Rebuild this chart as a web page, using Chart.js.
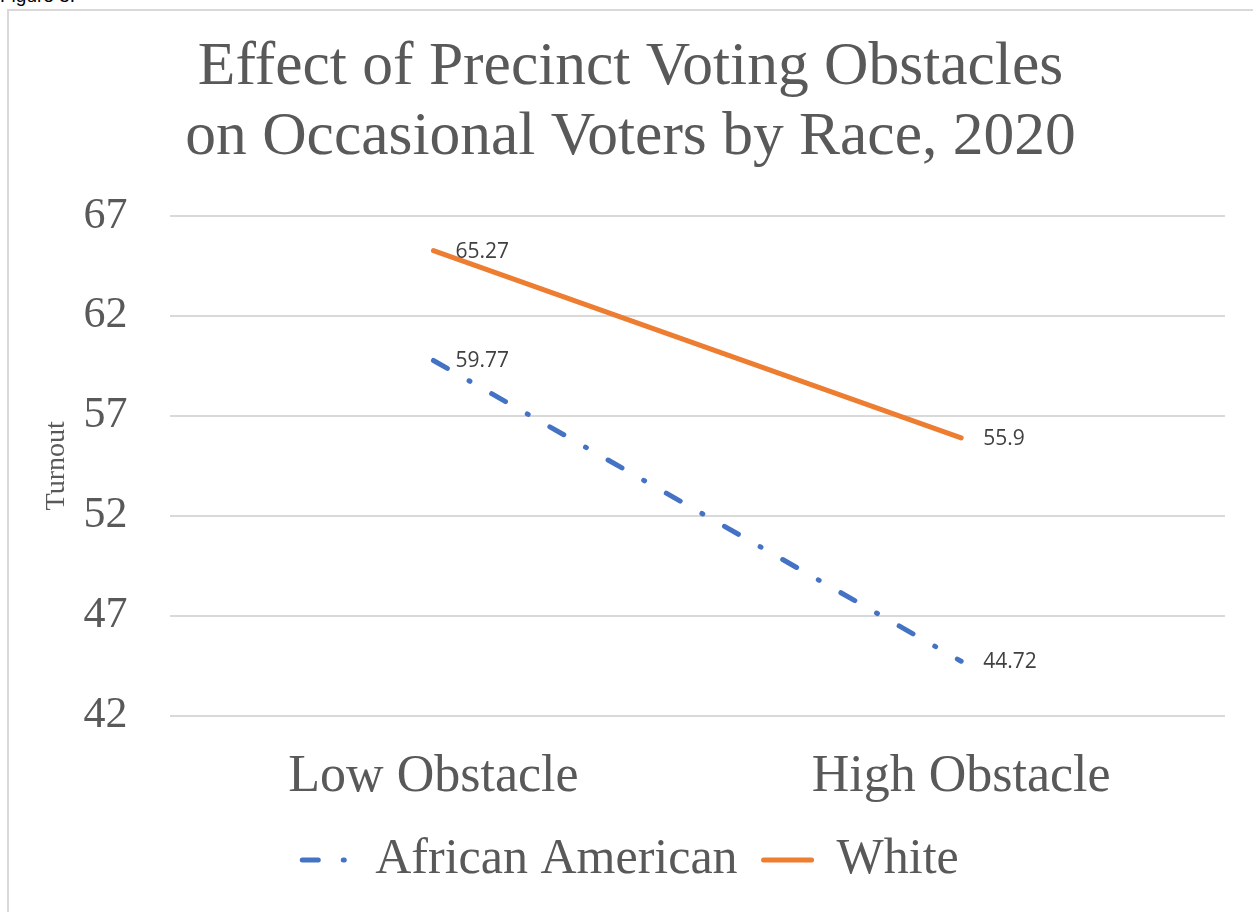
<!DOCTYPE html>
<html>
<head>
<meta charset="utf-8">
<script src="https://cdn.jsdelivr.net/npm/chart.js@4"></script>
<style>
  html, body { margin: 0; padding: 0; background: #fff; overflow: hidden; }
  #wrap { position: relative; width: 1253px; height: 912px; }
  #fig { position: absolute; left: 0; top: -15px; font: 19px "Liberation Sans", sans-serif; color: #000; }
  #frame { position: absolute; left: 7px; top: 9px; width: 1400px; height: 1000px; border: 2px solid #d9d9d9; }
  #c { position: absolute; left: 0; top: 0; }
</style>
</head>
<body>
<div id="wrap">
  <div id="fig">Figure 5.</div>
  <div id="frame"></div>
  <canvas id="c" width="1253" height="912"></canvas>
</div>
<script>
// chart data
var categories = ['Low Obstacle', 'High Obstacle'];
var africanAmerican = [59.77, 44.72];
var white = [65.27, 55.9];
var yTicks = [42, 47, 52, 57, 62, 67];

var grey = '#595959';
var serif = '"Liberation Serif", "DejaVu Serif", serif';
var dashDot = [16, 25, 1, 25];

var valueLabels = {
  id: 'valueLabels',
  afterDatasetsDraw: function(chart) {
    var ctx = chart.ctx;
    ctx.save();
    ctx.font = '21px "Open Sans", sans-serif';
    ctx.fillStyle = '#404040';
    ctx.textAlign = 'left';
    ctx.textBaseline = 'middle';
    chart.data.datasets.forEach(function(ds, i) {
      var meta = chart.getDatasetMeta(i);
      meta.data.forEach(function(pt, j) {
        ctx.fillText(String(ds.data[j]), pt.x + 22, pt.y + 1);
      });
    });
    ctx.restore();
  }
};

var ctx = document.getElementById('c').getContext('2d');
var chart = new Chart(ctx, {
  type: 'line',
  data: {
    labels: categories,
    datasets: [{
      label: 'African American',
      data: africanAmerican,
      borderColor: '#4472C4',
      backgroundColor: '#4472C4',
      borderWidth: 5,
      borderDash: dashDot,
      borderCapStyle: 'round',
      pointRadius: 0,
      tension: 0
    }, {
      label: 'White',
      data: white,
      borderColor: '#ED7D31',
      backgroundColor: '#ED7D31',
      borderWidth: 5,
      borderCapStyle: 'round',
      pointRadius: 0,
      tension: 0
    }]
  },
  options: {
    responsive: false,
    animation: false,
    layout: { padding: { left: 36, right: 28, top: 33, bottom: 17 } },
    plugins: {
      title: {
        display: true,
        text: ['Effect of Precinct Voting Obstacles', 'on Occasional Voters by Race, 2020'],
        color: grey,
        font: { family: serif, size: 61.5, weight: 'normal', lineHeight: 1.138 },
        padding: { top: 0, bottom: 43 }
      },
      legend: {
        position: 'bottom',
        labels: {
          color: grey,
          font: { family: serif, size: 50 },
          usePointStyle: true,
          pointStyle: 'line',
          pointStyleWidth: 48,
          padding: 26,
          generateLabels: function(chart) {
            var items = Chart.defaults.plugins.legend.labels.generateLabels(chart);
            items.forEach(function(it) { it.lineCap = 'round'; it.lineWidth = 5; });
            // point style legend ignores the dataset dash, so set it here
            if (items[0]) {
              items[0].lineDash = dashDot;
              items[0].lineDashOffset = 0;
            }
            return items;
          }
        }
      },
      tooltip: { enabled: false }
    },
    scales: {
      x: {
        offset: true,
        grid: { display: false, drawTicks: false },
        border: { display: false },
        ticks: { color: grey, font: { family: serif, size: 52 }, padding: 31 },
        afterFit: function(s) { s.height -= 31; }
      },
      y: {
        min: yTicks[0],
        max: yTicks[yTicks.length - 1],
        afterBuildTicks: function(s) { s.ticks = yTicks.map(function(v) { return { value: v }; }); },
        grid: { color: '#d9d9d9', lineWidth: 2, drawTicks: false },
        border: { display: false },
        ticks: { color: grey, font: { family: serif, size: 44 }, padding: 42 },
        afterFit: function(s) { s.width -= 42; },
        title: {
          display: true,
          text: 'Turnout',
          color: grey,
          font: { family: serif, size: 28 },
          padding: { top: 4, bottom: 10 }
        }
      }
    }
  },
  plugins: [valueLabels]
});
</script>
</body>
</html>
